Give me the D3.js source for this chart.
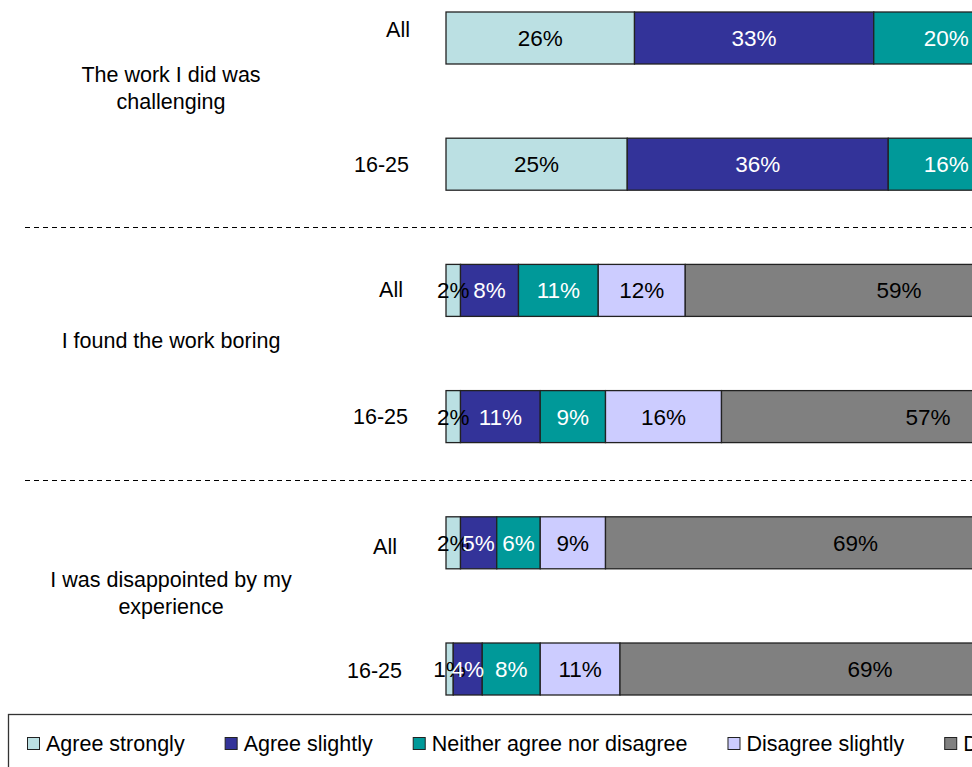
<!DOCTYPE html>
<html>
<head>
<meta charset="utf-8">
<script src="https://cdn.jsdelivr.net/npm/d3@7"></script>
<style>
  html, body { margin: 0; padding: 0; background: #fff; overflow: hidden; }
  svg { display: block; font-family: "Liberation Sans", Arial, Helvetica, sans-serif; }
</style>
</head>
<body>
<svg id="chart" width="972" height="767"></svg>
<script>
// ---------------- data ----------------
const categories = ["The work I did was challenging", "I found the work boring", "I was disappointed by my experience"];
const categoryLines = [["The work I did was", "challenging"], ["I found the work boring"], ["I was disappointed by my", "experience"]];
const groups = ["All", "16-25"];
const series = ["Agree strongly", "Agree slightly", "Neither agree nor disagree", "Disagree slightly", "Disagree strongly"];
// one value per row: challenging All, challenging 16-25, boring All, boring 16-25, disappointed All, disappointed 16-25
const agreeStrongly    = [26, 25,  2,  2,  2,  1];
const agreeSlightly    = [33, 36,  8, 11,  5,  4];
const neitherAgree     = [20, 16, 11,  9,  6,  8];
const disagreeSlightly = [12, 13, 12, 16,  9, 11];
const disagreeStrongly = [ 7,  8, 59, 57, 69, 69];

// ---------------- styles ----------------
const seriesColors = ["#BBE0E3", "#333399", "#009999", "#CCCCFF", "#808080"];
const labelColors  = ["#000", "#fff", "#fff", "#000", "#000"];
// small per-label nudges of the group labels (dx, dy)
const groupLabelNudge = [[0, -9], [-1, 0], [-7, -1], [-2, 0], [-13, 3.5], [-8, 1.5]];

// ---------------- build table ----------------
const seriesArrays = [agreeStrongly, agreeSlightly, neitherAgree, disagreeSlightly, disagreeStrongly];
const rows = [];
categories.forEach((c, ci) => groups.forEach((g, gi) => {
  const i = ci * groups.length + gi;
  const r = { id: c + "|" + g, cat: c, ci, group: g, idx: i };
  series.forEach((s, si) => r[s] = seriesArrays[si][i]);
  rows.push(r);
}));

const stacked = d3.stack().keys(series)(rows);

const svg = d3.select("#chart");
const FS = 21.5;
const VFS = 22.5;

const x = d3.scaleLinear().domain([0, 100]).range([446, 1171]);
const y = d3.scaleBand().domain(rows.map(r => r.id)).range([12, 695]).paddingInner(0.588).paddingOuter(0);
const bw = y.bandwidth();

// separators between categories
for (let ci = 1; ci < categories.length; ci++) {
  const prev = rows[ci * groups.length - 1].id;
  const next = rows[ci * groups.length].id;
  const yy = Math.round((y(prev) + bw + y(next)) / 2) + 0.5;
  svg.append("line")
    .attr("x1", 25).attr("x2", 972).attr("y1", yy).attr("y2", yy)
    .attr("stroke", "#000").attr("stroke-width", 1).attr("stroke-dasharray", "5,4");
}

// bars
const layers = svg.append("g").selectAll("g").data(stacked).join("g")
  .attr("fill", (d, i) => seriesColors[i]);
layers.selectAll("rect").data(d => d).join("rect")
  .attr("x", d => x(d[0]))
  .attr("y", d => y(d.data.id))
  .attr("width", d => x(d[1]) - x(d[0]))
  .attr("height", bw)
  .attr("stroke", "#222")
  .attr("stroke-width", 1.3);

// value labels
const lab = svg.append("g");
stacked.forEach((layer, si) => {
  lab.selectAll(null).data(layer).join("text")
    .attr("x", d => (x(d[0]) + x(d[1])) / 2)
    .attr("y", d => y(d.data.id) + bw / 2)
    .attr("dy", "0.36em")
    .attr("text-anchor", "middle")
    .attr("font-size", VFS + "px")
    .attr("fill", labelColors[si])
    .text(d => (d[1] - d[0]) + "%");
});

// group labels (All / 16-25)
svg.append("g").selectAll("text").data(rows).join("text")
  .attr("x", d => 410 + groupLabelNudge[d.idx][0])
  .attr("y", d => y(d.id) + bw / 2 + groupLabelNudge[d.idx][1])
  .attr("dy", "0.36em")
  .attr("text-anchor", "end")
  .attr("font-size", FS + "px")
  .attr("fill", "#000")
  .text(d => d.group);

// category labels
categories.forEach((c, ci) => {
  const r0 = rows[ci * groups.length].id;
  const r1 = rows[ci * groups.length + groups.length - 1].id;
  const cy = (y(r0) + y(r1) + bw) / 2 - 13;
  const lines = categoryLines[ci];
  const lh = 27;
  const t = svg.append("text")
    .attr("text-anchor", "middle")
    .attr("font-size", FS + "px")
    .attr("fill", "#000");
  lines.forEach((ln, li) => {
    t.append("tspan")
      .attr("x", 171)
      .attr("y", cy + (li - (lines.length - 1) / 2) * lh)
      .attr("dy", "0.36em")
      .text(ln);
  });
});

// legend
const lg = svg.append("g");
lg.append("rect").attr("x", 8.5).attr("y", 714.5).attr("width", 1200).attr("height", 100)
  .attr("fill", "#fff").attr("stroke", "#333").attr("stroke-width", 1.3);
let lx = 27;
series.forEach((s, si) => {
  const item = lg.append("g");
  item.append("rect").attr("x", lx + 0.5).attr("y", 737.5).attr("width", 12).attr("height", 12)
    .attr("fill", seriesColors[si]).attr("stroke", "#222").attr("stroke-width", 1);
  const t = item.append("text").attr("x", lx + 19).attr("y", 743).attr("dy", "0.36em")
    .attr("font-size", FS + "px").attr("fill", "#000").text(s);
  const w = t.node().getComputedTextLength();
  lx = lx + 19 + w + 40;
});
</script>
</body>
</html>
